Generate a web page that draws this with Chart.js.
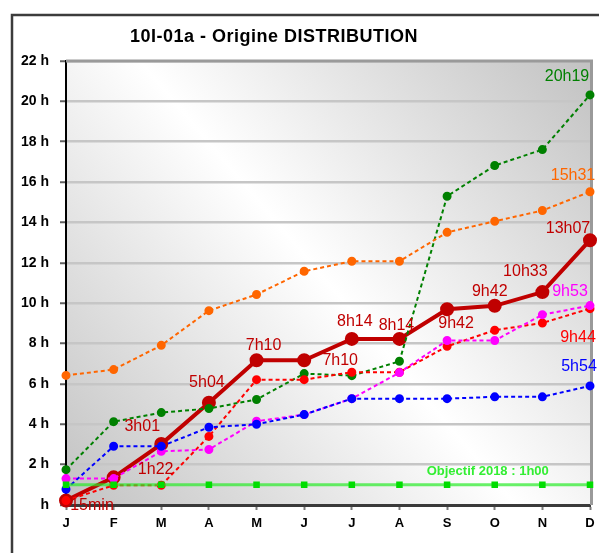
<!DOCTYPE html>
<html><head><meta charset="utf-8">
<script src="https://cdn.jsdelivr.net/npm/chart.js@4.4.1/dist/chart.umd.min.js"></script>
<style>html,body{margin:0;padding:0;background:#fff;overflow:hidden}</style>
</head><body>
<canvas id="c" width="599" height="553"></canvas>
<script>
const chartTitle = '10I-01a - Origine DISTRIBUTION';
const months = ['J','F','M','A','M','J','J','A','S','O','N','D'];
const yTickValues = [0,2,4,6,8,10,12,14,16,18,20,22];
// heures (décimales)
const serieRouge      = [0.22, 1.37, 3.02, 5.07, 7.17, 7.17, 8.23, 8.23, 9.70, 9.87, 10.55, 13.12];
const serieRougePoint = [0.22, 0.98, 0.98, 3.40, 6.21, 6.21, 6.58, 6.58, 7.86, 8.66, 9.02, 9.73];
const serieOrange     = [6.42, 6.71, 7.91, 9.63, 10.43, 11.58, 12.08, 12.08, 13.51, 14.06, 14.59, 15.52];
const serieVerte      = [1.75, 4.13, 4.58, 4.78, 5.23, 6.51, 6.41, 7.12, 15.30, 16.82, 17.61, 20.32];
const serieBleue      = [0.78, 2.91, 2.91, 3.85, 4.00, 4.48, 5.27, 5.27, 5.27, 5.36, 5.36, 5.90];
const serieRose       = [1.31, 1.31, 2.66, 2.75, 4.15, 4.48, 5.27, 6.56, 8.15, 8.15, 9.43, 9.88];
const objectif        = [1,1,1,1,1,1,1,1,1,1,1,1];
const objectifTexte   = 'Objectif 2018 : 1h00';
const labelsRouge = ['15min','1h22','3h01','5h04','7h10','7h10','8h14','8h14','9h42','9h42','10h33','13h07'];
const labelsFin = { verte:'20h19', orange:'15h31', rose:'9h53', rougePoint:'9h44', bleue:'5h54' };

const labelOffsets = [[26,5],[42,-8],[-19,-17],[-2,-20],[7,-15],[36,0],[3,-17],[-3,-13],[9,14],[-5,-14],[-17,-20],[-22,-12]];

const decorPlugin = {
  id:'decor',
  beforeDraw(chart){
    const ctx = chart.ctx, a = chart.chartArea;
    ctx.save();
    ctx.fillStyle = '#fff'; ctx.fillRect(0,0,chart.width,chart.height);
    ctx.strokeStyle = '#3c3c3c'; ctx.lineWidth = 2.5;
    ctx.beginPath(); ctx.moveTo(12,553); ctx.lineTo(12,15); ctx.lineTo(599,15); ctx.stroke();
    ctx.fillStyle = '#000'; ctx.font = 'bold 18px "Liberation Sans", Arial, sans-serif';
    ctx.textAlign = 'center'; ctx.textBaseline = 'middle';
    try { ctx.letterSpacing = '0.5px'; } catch(e) {}
    ctx.fillText(chartTitle, 274, 37);
    try { ctx.letterSpacing = '0px'; } catch(e) {}
    const g = ctx.createLinearGradient(a.right, a.top, a.left, a.bottom);
    g.addColorStop(0, '#c2c2c2');
    g.addColorStop(0.5, '#ffffff');
    g.addColorStop(1, '#c2c2c2');
    ctx.fillStyle = g; ctx.fillRect(a.left, a.top, a.right-a.left, a.bottom-a.top);
    ctx.restore();
  },
  beforeDatasetsDraw(chart){
    const ctx = chart.ctx, a = chart.chartArea;
    ctx.save();
    ctx.strokeStyle = '#9a9a9a'; ctx.lineWidth = 3;
    ctx.beginPath(); ctx.moveTo(a.left, a.top); ctx.lineTo(a.right+1.5, a.top); ctx.lineTo(a.right+1.5, a.bottom); ctx.stroke();
    ctx.restore();
  },
  afterDatasetsDraw(chart){
    const ctx = chart.ctx;
    ctx.save();
    ctx.textAlign = 'center'; ctx.textBaseline = 'middle';
    ctx.font = '16px "Liberation Sans", Arial, sans-serif';
    const mRouge = chart.getDatasetMeta(6);
    mRouge.data.forEach((p,i)=>{
      ctx.fillStyle = '#c00000';
      ctx.fillText(labelsRouge[i], p.x + labelOffsets[i][0], p.y + labelOffsets[i][1]);
    });
    const last = (idx)=>chart.getDatasetMeta(idx).data[11];
    const ends = [[5,labelsFin.verte,'#008000',-23,-18],[4,labelsFin.orange,'#ff6600',-17,-16],
                  [2,labelsFin.rose,'#ff00ff',-20,-14],[3,labelsFin.rougePoint,'#ff0000',-12,29],
                  [1,labelsFin.bleue,'#0000ff',-11,-19]];
    ends.forEach(([idx,t,c,dx,dy])=>{ const p = last(idx); ctx.fillStyle = c; ctx.fillText(t, p.x+dx, p.y+dy); });
    const po = chart.getDatasetMeta(0).data[9];
    ctx.font = 'bold 13px "Liberation Sans", Arial, sans-serif';
    ctx.fillStyle = '#33ee33';
    ctx.fillText(objectifTexte, po.x - 7, po.y - 13);
    ctx.restore();
  }
};

const dashed = (data, color) => ({
  data, borderColor: color, backgroundColor: color, pointBackgroundColor: color, pointBorderColor: color,
  borderWidth: 2, borderDash: [4,3], pointRadius: 3.5, pointHoverRadius: 3.5, tension: 0, clip: false
});

new Chart(document.getElementById('c'), {
  type: 'line',
  data: {
    labels: months,
    datasets: [
      { data: objectif, borderColor: 'rgba(40,235,40,0.7)', borderWidth: 3, pointStyle: 'rect', pointRadius: 2.5,
        pointBackgroundColor: '#00dd00', pointBorderColor: '#00dd00', tension: 0, clip: false },
      dashed(serieBleue, '#0000ff'),
      dashed(serieRose, '#ff00ff'),
      dashed(serieRougePoint, '#ff0000'),
      dashed(serieOrange, '#ff6600'),
      dashed(serieVerte, '#008000'),
      { data: serieRouge, borderColor: '#c00000', backgroundColor: '#c00000', pointBackgroundColor: '#c00000',
        pointBorderColor: '#c00000', borderWidth: 4, pointRadius: 5, tension: 0, clip: false }
    ]
  },
  options: {
    responsive: false, animation: false, devicePixelRatio: 1,
    layout: { padding: { top: 61, right: 5, left: 0, bottom: 0 } },
    plugins: { legend: { display: false }, title: { display: false }, tooltip: { enabled: false } },
    scales: {
      x: {
        offset: false,
        grid: { display: true, drawOnChartArea: false, tickLength: 5, tickColor: '#7a7a7a', tickWidth: 2 },
        border: { display: true, color: '#3a3a3a', width: 3 },
        ticks: { color: '#000', font: { family: '"Liberation Sans", Arial, sans-serif', size: 13, weight: 'bold' }, padding: 6, maxRotation: 0, autoSkip: false },
        afterFit(s){ s.height = 48; s.paddingLeft = 0; s.paddingRight = 0; }
      },
      y: {
        min: 0, max: 22,
        afterBuildTicks(s){ s.ticks = yTickValues.map(v=>({value:v})); },
        grid: { color: '#c6c6c6', lineWidth: 2.5, tickLength: 6, tickColor: '#606060', tickWidth: 2 },
        border: { display: true, color: '#000', width: 2 },
        ticks: { color: '#000', font: { family: '"Liberation Sans", Arial, sans-serif', size: 14, weight: 'bold' }, padding: 11,
          callback: v => v === 0 ? 'h' : v + ' h' },
        afterFit(s){ s.width = 66; s.paddingTop = 0; s.paddingBottom = 0; }
      }
    }
  },
  plugins: [decorPlugin]
});
</script>
</body></html>
